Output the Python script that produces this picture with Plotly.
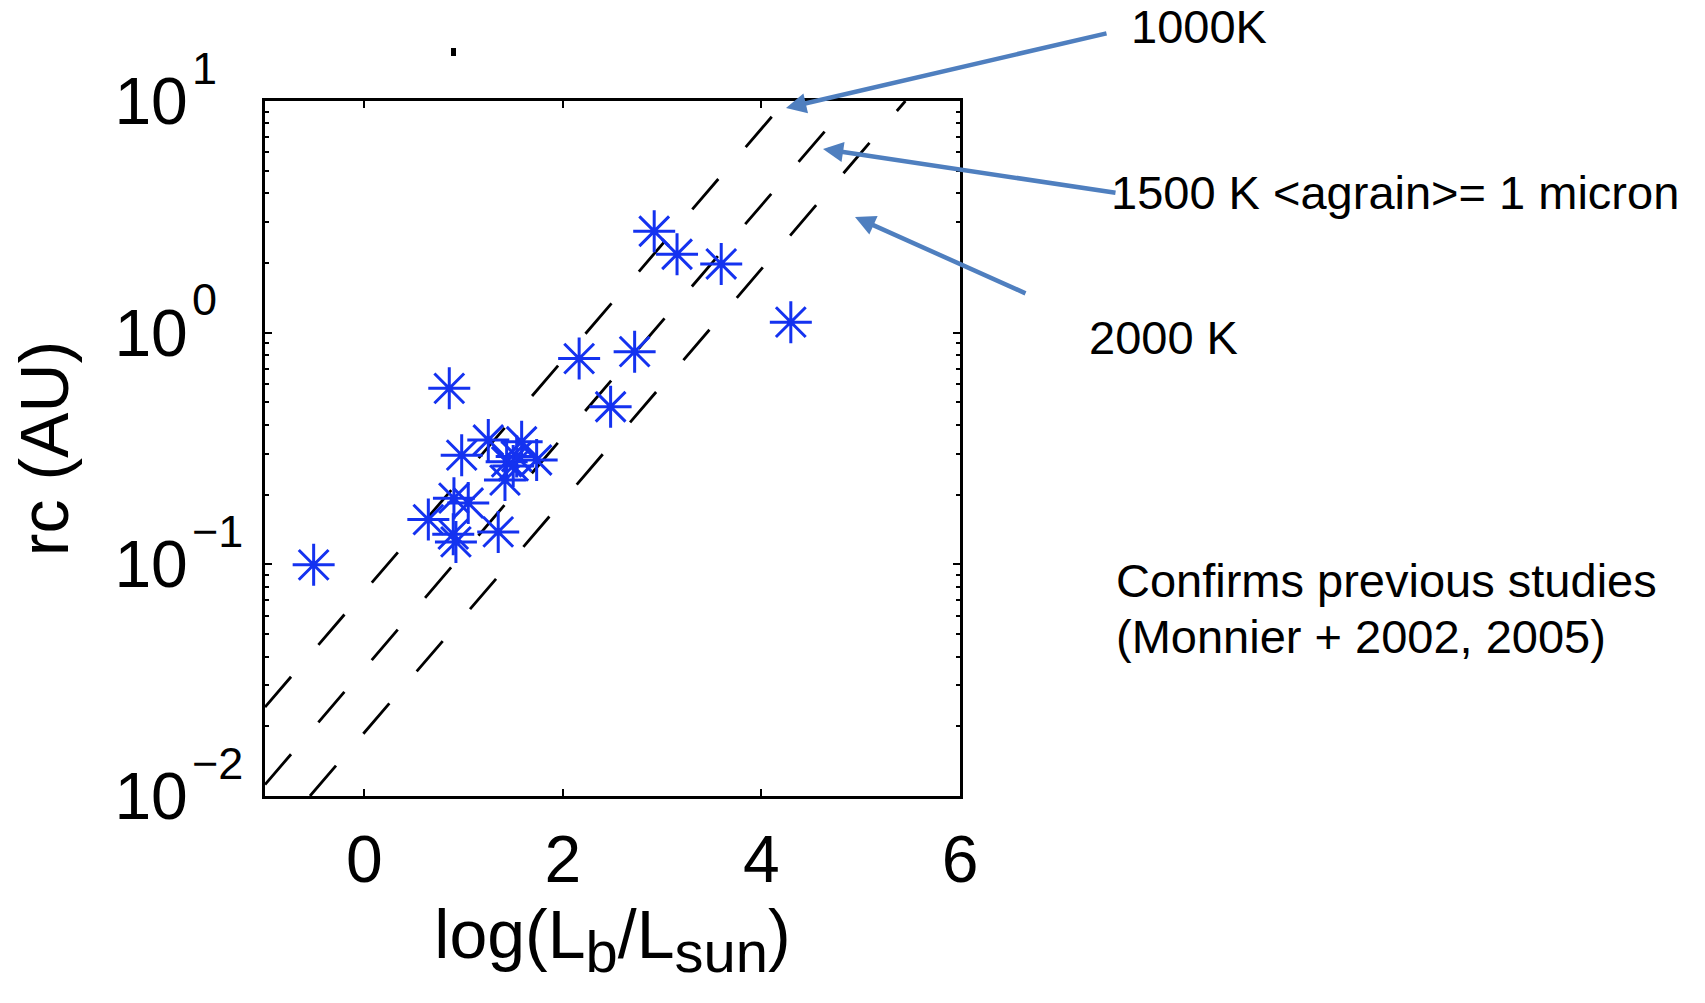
import math
import plotly.graph_objects as go

# ---- data ----
log_lum = [-0.51, 0.856, 2.92, 3.15, 3.595, 4.296, 2.164, 2.723, 2.481,
           1.249, 0.981, 1.585, 1.736, 1.434, 1.535, 1.50, 1.417,
           0.903, 1.047, 0.645, 0.896, 0.923, 1.349]
rc_au = [0.0995, 0.575, 2.74, 2.18, 1.98, 1.11, 0.773, 0.828, 0.479,
         0.344, 0.296, 0.338, 0.282, 0.277, 0.292, 0.266, 0.231,
         0.193, 0.184, 0.156, 0.135, 0.125, 0.138]

# dust-sublimation model lines (end points)
line_1000K_x = [-1.0, 4.24]
line_1000K_y = [0.0242, 10.0]
line_1500K_x = [-1.0, 4.90]
line_1500K_y = [0.0112, 10.0]
line_2000K_x = [-0.547, 5.45]
line_2000K_y = [0.01, 10.0]

y_tickvals = [0.01, 0.1, 1, 10]
y_ticktext = ["10", "10", "10", "10"]
y_exponents = ["−2", "−1", "0", "1"]
y_minor = [m * 10 ** e for e in (-2, -1, 0) for m in range(2, 10)]
x_tickvals = [0, 2, 4, 6]
x_ticktext = ["0", "2", "4", "6"]

FONT = "Liberation Sans, Arial, Helvetica, sans-serif"
W, H = 1705, 1003
L, R, T, B = 265, 960, 101, 796


def px(x):
    return (x - L) / (R - L)


def py(y):
    return (B - y) / (B - T)


fig = go.Figure()
for xs, ys in [(line_1000K_x, line_1000K_y), (line_1500K_x, line_1500K_y),
               (line_2000K_x, line_2000K_y)]:
    fig.add_trace(go.Scatter(x=xs, y=ys, mode="lines",
                             line=dict(color="black", width=2.8, dash="40px,42px"),
                             hoverinfo="skip", showlegend=False))

STAR = "#1432f0"
fig.add_trace(go.Scatter(x=log_lum, y=rc_au, mode="markers",
                         marker=dict(symbol="asterisk-open", size=35, color=STAR,
                                     line=dict(color=STAR, width=3)),
                         showlegend=False))

axis_common = dict(showgrid=False, zeroline=False, showline=True, linecolor="black",
                   linewidth=3, mirror="allticks", ticks="inside", tickcolor="black",
                   tickwidth=2, tickfont=dict(family=FONT, size=66, color="black"))

fig.update_xaxes(range=[-1, 6], tickvals=x_tickvals, ticktext=x_ticktext, ticklen=7,
                 ticklabelstandoff=4,
                 title=dict(text="log(L<sub><span style='font-size:58px'>b</span></sub>/"
                                 "L<sub><span style='font-size:58px'>sun</span></sub>)",
                            font=dict(family=FONT, size=68, color="black"), standoff=0),
                 **axis_common)
fig.update_yaxes(type="log", range=[-2, 1], tickvals=y_tickvals, ticktext=y_ticktext,
                 ticklen=7, ticklabelstandoff=61,
                 minor=dict(tickvals=y_minor, ticks="inside", ticklen=4, tickcolor="black",
                            tickwidth=2),
                 title=dict(text="rc (AU)", font=dict(family=FONT, size=68, color="black"),
                            standoff=24),
                 **axis_common)

annos = []
# exponents of the y tick labels, placed on the y axis scale (log axis -> log10 units)
for val, ex in zip(y_tickvals, y_exponents):
    annos.append(dict(xref="paper", yref="y", x=px(190), y=math.log10(val), text=ex,
                      showarrow=False, xanchor="left", yanchor="middle", yshift=33,
                      font=dict(family=FONT, size=45, color="black")))

ARROW = "#4f7fbf"
arrows = [((786, 108), (1108, 33)),
          ((823, 149), (1117, 193)),
          ((855, 217), (1027, 294))]
for (hx, hy), (tx, ty) in arrows:
    annos.append(dict(xref="paper", yref="paper", x=px(hx), y=py(hy), text="",
                      showarrow=True, ax=tx - hx, ay=ty - hy, arrowhead=2,
                      arrowsize=0.9, arrowwidth=4.5, arrowcolor=ARROW))

labels = [("1000K", 1129, 27), ("1500 K <agrain>= 1 micron", 1109, 192),
          ("2000 K", 1087, 337), ("Confirms previous studies", 1114, 580),
          ("(Monnier + 2002, 2005)", 1114, 636)]
for txt, x, y in labels:
    annos.append(dict(xref="paper", yref="paper", x=px(x), y=py(y),
                      text=txt.replace("<", "&lt;").replace(">", "&gt;"),
                      showarrow=False, xanchor="left", yanchor="middle",
                      font=dict(family=FONT, size=47, color="black")))

fig.update_layout(
    width=W, height=H, margin=dict(l=L, r=W - R, t=T, b=H - B, autoexpand=False),
    plot_bgcolor="white", paper_bgcolor="white", annotations=annos,
    shapes=[dict(type="rect", xref="paper", yref="paper", x0=px(451), x1=px(456),
                 y0=py(56), y1=py(48), fillcolor="black", line=dict(width=0))],
)
fig.update_xaxes(automargin=False)
fig.update_yaxes(automargin=False)

fig.write_html("out.html")
